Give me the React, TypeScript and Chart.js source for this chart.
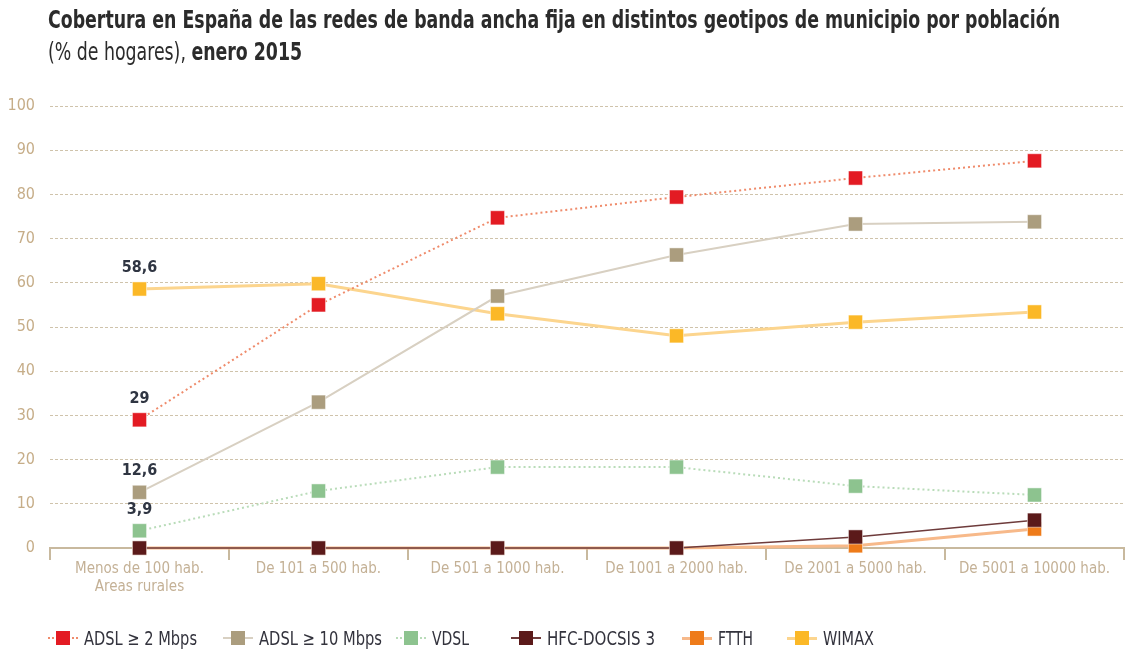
import React, { useEffect, useLayoutEffect, useRef } from 'react';
import { Chart, registerables } from 'chart.js';

Chart.register(...registerables);

const FONT = "'Liberation Sans Narrow', 'DejaVu Sans Condensed', 'Arial Narrow', 'Roboto', sans-serif";

const categories: (string | string[])[] = [
  ['Menos de 100 hab.', 'Areas rurales'],
  'De 101 a 500 hab.',
  'De 501 a 1000 hab.',
  'De 1001 a 2000 hab.',
  'De 2001 a 5000 hab.',
  'De 5001 a 10000 hab.',
];

const adsl2 = [29, 55, 74.7, 79.4, 83.7, 87.6];
const adsl10 = [12.6, 33, 57, 66.3, 73.3, 73.8];
const vdsl = [3.9, 12.9, 18.3, 18.3, 14, 12];
const hfc = [0, 0, 0, 0, 2.5, 6.3];
const ftth = [0, 0, 0, 0, 0.5, 4.3];
const wimax = [58.6, 59.8, 53, 48, 51.1, 53.4];

const seriesNames = ['ADSL ≥ 2 Mbps', 'ADSL ≥ 10 Mbps', 'VDSL', 'HFC-DOCSIS 3', 'FTTH', 'WIMAX'];
const markerColors = ['#e31b23', '#ab9d7e', '#8dc38f', '#5b1a1a', '#ee7b1a', '#fbb827'];
const lineColors = ['#ef8b6b', '#d8d0c2', '#b9dcb9', '#6e3b3b', '#f7b98a', '#fcd58e'];
const lineWidths = [2, 2, 2, 1.5, 3, 3];
const lineDashes: number[][] = [[2, 3], [], [2, 3], [], [], []];

// annotated values: [dataset index, point index]
const annotated: [number, number][] = [[5, 0], [0, 0], [1, 0], [2, 0]];

const titleLine1 = 'Cobertura en España de las redes de banda ancha fija en distintos geotipos de municipio por población';
const titleLine2a = '(% de hogares), ';
const titleLine2b = 'enero 2015';

const legendLefts = [48, 223, 396, 511, 682, 787];
const legendTextWidths = [113, 123, 37, 108, 35, 51];

const valueLabelPlugin = {
  id: 'valueLabels',
  afterDatasetsDraw(chart: any) {
    const ctx = chart.ctx;
    ctx.save();
    ctx.font = `bold 16px ${FONT}`;
    ctx.fillStyle = '#2f3542';
    ctx.textAlign = 'center';
    ctx.textBaseline = 'middle';
    annotated.forEach(([ds, idx]) => {
      const pt = chart.getDatasetMeta(ds).data[idx];
      const v = chart.data.datasets[ds].data[idx];
      ctx.fillText(String(v).replace('.', ','), pt.x, pt.y - 21);
    });
    ctx.restore();
  },
};

export default function App() {
  const canvasRef = useRef<HTMLCanvasElement | null>(null);
  const titleRef = useRef<HTMLDivElement | null>(null);
  const line1Ref = useRef<HTMLSpanElement | null>(null);
  const legendTextRefs = useRef<(HTMLSpanElement | null)[]>([]);

  useLayoutEffect(() => {
    if (titleRef.current && line1Ref.current) {
      const w = line1Ref.current.getBoundingClientRect().width;
      if (w > 0) titleRef.current.style.transform = `scaleX(${1012 / w})`;
    }
    legendTextRefs.current.forEach((el, i) => {
      if (!el) return;
      const w = el.getBoundingClientRect().width;
      if (w > 0) el.style.transform = `scaleX(${legendTextWidths[i] / w})`;
    });
  }, []);

  useEffect(() => {
    if (!canvasRef.current) return;
    const all = [adsl2, adsl10, vdsl, hfc, ftth, wimax];
    const chart = new Chart(canvasRef.current, {
      type: 'line',
      data: {
        labels: categories,
        datasets: all.map((d, i) => ({
          label: seriesNames[i],
          data: d,
          borderColor: lineColors[i],
          borderWidth: lineWidths[i],
          borderDash: lineDashes[i],
          pointStyle: 'rect',
          pointRadius: 10,
          pointHoverRadius: 10,
          pointBackgroundColor: markerColors[i],
          pointBorderColor: 'rgba(255,255,255,0.5)',
          pointBorderWidth: 1,
          tension: 0,
          fill: false,
          clip: false as any,
        })),
      },
      options: {
        responsive: false,
        animation: false,
        layout: { autoPadding: false, padding: { top: 106, right: 2, left: 0, bottom: 0 } },
        plugins: {
          legend: { display: false },
          tooltip: { enabled: false },
          title: { display: false },
        },
        scales: {
          x: {
            offset: true,
            grid: {
              offset: true,
              drawOnChartArea: false,
              drawTicks: true,
              tickLength: 12,
              color: '#c8b99e',
              lineWidth: 2,
            },
            border: { display: true, color: '#c8b99e', width: 2 },
            ticks: {
              color: '#c4b196',
              font: { family: FONT, size: 15 },
              padding: 0,
              maxRotation: 0,
              autoSkip: false,
            },
            afterFit(scale: any) {
              scale.height = 104;
              scale.paddingLeft = 0;
              scale.paddingRight = 0;
            },
          },
          y: {
            min: 0,
            max: 100,
            ticks: {
              stepSize: 10,
              color: '#c6ad88',
              font: { family: FONT, size: 16 },
              padding: 15,
            },
            grid: {
              drawTicks: false,
              color: '#cfc3ab',
              lineWidth: 1,
            },
            border: { display: false, dash: [3, 2] },
            afterFit(scale: any) {
              scale.width = 50;
            },
          },
        },
      },
      plugins: [valueLabelPlugin],
    } as any);
    return () => chart.destroy();
  }, []);

  return (
    <div style={{ position: 'fixed', left: 0, top: 0, width: 1126, height: 652, background: '#fff', overflow: 'hidden' }}>
      <canvas ref={canvasRef} width={1126} height={652} style={{ position: 'absolute', left: 0, top: 0, width: 1126, height: 652 }} />
      <div
        ref={titleRef}
        style={{
          position: 'absolute',
          left: 48,
          top: 4,
          fontFamily: FONT,
          fontSize: 24,
          lineHeight: '32px',
          color: '#2b2b2b',
          whiteSpace: 'nowrap',
          transformOrigin: 'left top',
        }}
      >
        <div>
          <span ref={line1Ref} style={{ fontWeight: 'bold' }}>{titleLine1}</span>
        </div>
        <div>
          <span>{titleLine2a}</span>
          <span style={{ fontWeight: 'bold' }}>{titleLine2b}</span>
        </div>
      </div>
      {seriesNames.map((name, i) => (
        <div
          key={name}
          style={{
            position: 'absolute',
            left: legendLefts[i],
            top: 626,
            height: 24,
            display: 'flex',
            alignItems: 'center',
            fontFamily: FONT,
            fontSize: 19,
            color: '#33333d',
            whiteSpace: 'nowrap',
          }}
        >
          <div style={{ position: 'relative', width: 30, height: 24, marginRight: 6, flex: 'none' }}>
            <div
              style={{
                position: 'absolute',
                left: 0,
                right: 0,
                top: 11,
                borderTop: `${Math.max(2, lineWidths[i])}px ${lineDashes[i].length ? 'dotted' : 'solid'} ${lineColors[i]}`,
              }}
            />
            <div
              style={{
                position: 'absolute',
                left: 8,
                top: 5,
                width: 14,
                height: 14,
                background: markerColors[i],
              }}
            />
          </div>
          <span
            ref={(el) => {
              legendTextRefs.current[i] = el;
            }}
            style={{ display: 'inline-block', transformOrigin: 'left center' }}
          >
            {name}
          </span>
        </div>
      ))}
    </div>
  );
}
